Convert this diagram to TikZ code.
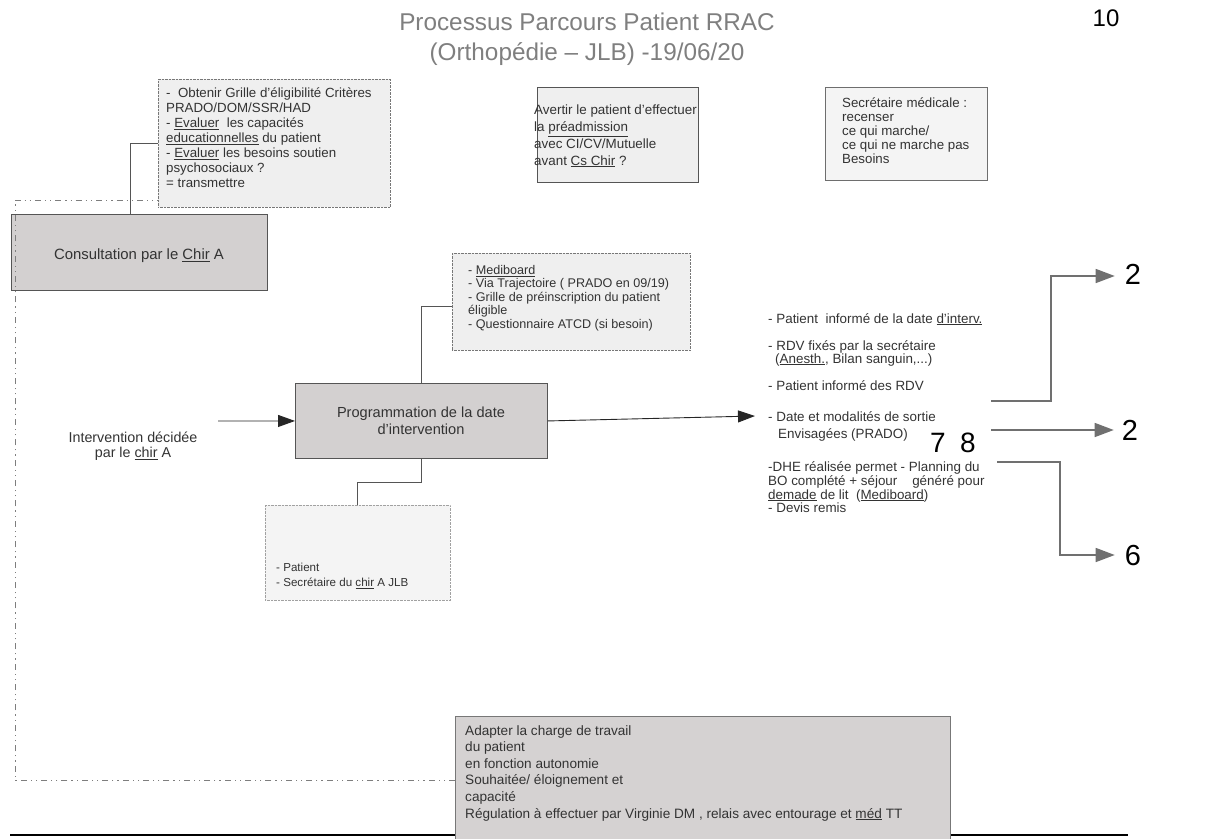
\documentclass[tikz,border=0pt]{standalone}
\usepackage{fontspec}
\setmainfont{Liberation Sans}
\usetikzlibrary{arrows.meta}
\definecolor{boxgray}{HTML}{D3D0D0}
\definecolor{lightbox}{HTML}{EFEFEF}
\definecolor{paler}{HTML}{F4F4F4}
\definecolor{textgray}{HTML}{333333}
\definecolor{titlegray}{HTML}{7F7F7F}
\definecolor{edgegray}{HTML}{555555}
\definecolor{arrowgray}{HTML}{707070}
\tikzset{
  dotbox/.style={draw=edgegray!80, densely dotted, fill=lightbox, inner sep=0, anchor=north west},
  solidbox/.style={draw=edgegray, line width=0.8pt, fill=lightbox, inner sep=0, anchor=north west},
  graybox/.style={draw=edgegray, line width=0.9pt, fill=boxgray, inner sep=0, anchor=north west},
  txt/.style={text=textgray, align=left, inner sep=0, anchor=north west, font=\fontsize{13.3}{15}\selectfont},
  ctxt/.style={text=textgray, align=center, inner sep=0, font=\fontsize{14.6}{17}\selectfont},
  bignum/.style={text=black, inner sep=0, font=\fontsize{28}{28}\selectfont},
  conn/.style={draw=edgegray, line width=0.9pt},
  blackarrow/.style={draw=black!85, line width=0.9pt, -{Triangle[length=17pt,width=12pt]}},
  grayarrow/.style={draw=arrowgray, line width=1.4pt, -{Triangle[length=19pt,width=14pt]}},
  dashdot/.style={draw=arrowgray!90, line width=1pt, dash pattern=on 6pt off 4pt on 1.2pt off 4pt on 1.2pt off 4pt}
}
\begin{document}
\begin{tikzpicture}[x=1pt,y=-1pt]
\useasboundingbox (0,0) rectangle (1218,838);
% title
\node[text=titlegray, align=center, inner sep=0, font=\fontsize{24.3}{30}\selectfont] (title) at (587,39) {Processus Parcours Patient RRAC\\(Orthopédie – JLB) -19/06/20};
\node[bignum, font=\fontsize{24}{24}\selectfont] (n10) at (1106,18) {10};
% bottom rule
\draw[line width=2.6pt, black] (10,835) coordinate (bl) -- (1128,835) coordinate (br);
% boxes
\node[dotbox, minimum width=232pt, minimum height=128pt] (crit) at (158,79) {};
\node[txt] (crittxt) at (166,88) {- \ Obtenir Grille d’éligibilité Critères\\PRADO/DOM/SSR/HAD\\- \underline{Evaluer}\ \ les capacités\\\underline{educationnelles} du patient\\- \underline{Evaluer} les besoins soutien\\psychosociaux ?\\= transmettre};
\node[solidbox, minimum width=161pt, minimum height=95pt] (preadm) at (537,87) {};
\node[txt, font=\fontsize{13.4}{16.7}\selectfont] (preadmtxt) at (534,105) {Avertir le patient d’effectuer\\la \underline{préadmission}\\avec CI/CV/Mutuelle\\avant \underline{Cs Chir} ?};
\node[solidbox, draw=edgegray!85, fill=paler, minimum width=162pt, minimum height=93pt] (secr) at (825,87) {};
\node[txt, font=\fontsize{13.3}{13.8}\selectfont] (secrtxt) at (842,98) {Secrétaire médicale :\\recenser\\ce qui marche/\\ce qui ne marche pas\\Besoins};
\node[graybox, minimum width=256pt, minimum height=76pt] (consult) at (11,214) {};
\node[ctxt, font=\fontsize{14.9}{17}\selectfont] (consulttxt) at (139,256) {Consultation par le \underline{Chir} A};
\node[dotbox, minimum width=238pt, minimum height=97pt] (medi) at (452,253) {};
\node[txt, font=\fontsize{12.6}{13.5}\selectfont] (meditxt) at (468,265) {- \underline{Mediboard}\\- Via Trajectoire ( PRADO en 09/19)\\- Grille de préinscription du patient\\éligible\\- Questionnaire ATCD (si besoin)};
\node[graybox, minimum width=252pt, minimum height=75pt] (prog) at (295,383) {};
\node[ctxt] (progtxt) at (421,421) {Programmation de la date\\d’intervention};
\node[dotbox, draw=edgegray!55, fill=paler, minimum width=185pt, minimum height=95pt] (pat) at (265,505) {};
\node[txt, font=\fontsize{11.6}{15}\selectfont] (pattxt) at (276,563) {- Patient\\- Secrétaire du \underline{chir} A JLB};
\node[ctxt, font=\fontsize{14.3}{15.5}\selectfont] (interv) at (133,446) {Intervention décidée\\par le \underline{chir} A};
\node[graybox, draw=edgegray!80, fill=boxgray!95, minimum width=495pt, minimum height=125pt] (adapt) at (455,716) {};
\node[txt, font=\fontsize{13.6}{16.6}\selectfont, text=black!80] (adapttxt) at (465,725) {Adapter la charge de travail\\du patient\\en fonction autonomie\\Souhaitée/ éloignement et\\capacité\\Régulation à effectuer par Virginie DM , relais avec entourage et \underline{méd} TT};
% right-hand text block
\node[txt, font=\fontsize{13.4}{13.5}\selectfont] (resu) at (768,313) {- Patient \ informé de la date \underline{d’interv.}\\[13.5pt]- RDV fixés par la secrétaire\\[-0.5pt]\hspace*{7pt}(\underline{Anesth.}, Bilan sanguin,...)\\[13.5pt]- Patient informé des RDV\\[17.5pt]- Date et modalités de sortie\\[4pt]\hspace*{10pt}Envisagées (PRADO)\\[19.5pt]-DHE réalisée permet - Planning du\\[0.5pt]BO complété + séjour \ \ \ généré pour\\\underline{demade} de lit \ (\underline{Mediboard})\\- Devis remis};
\node[bignum] (n7) at (938,443) {7};
\node[bignum] (n8) at (968,443) {8};
\node[bignum, font=\fontsize{29}{29}\selectfont] (n2a) at (1133,274) {2};
\node[bignum, font=\fontsize{29}{29}\selectfont] (n2b) at (1130,430) {2};
\node[bignum, font=\fontsize{29}{29}\selectfont] (n6) at (1133,556) {6};
% connectors
\draw[conn] (crit.west) -| ([xshift=-9pt]consult.north);
\draw[conn] ([yshift=-5pt]medi.west) -| (prog.north);
\draw[conn] (prog.south) -- ++(0,24) -| (pat.north);
\coordinate (ia) at (218,421);
\draw[blackarrow] (ia) -- (prog.west);
\coordinate (pr) at (755,416);
\draw[blackarrow] (prog.east) -- (pr);
\coordinate (s1) at (991,401);
\coordinate (k1) at (1051,276);
\draw[grayarrow] (s1) -| (k1) -- ([xshift=-10pt]n2a.west |- k1);
\coordinate (s2) at (991,430);
\draw[grayarrow] (s2) -- ([xshift=-8pt]n2b.west |- s2);
\coordinate (s3) at (997,462);
\coordinate (k3) at (1060,555);
\draw[grayarrow] (s3) -| (k3) -- ([xshift=-10pt]n6.west |- k3);
% feedback dash-dot loop
\coordinate (c0) at (15,200);
\draw[dashdot] ([yshift=-1.5pt]adapt.west) -| (c0) -- (crit.west |- c0);
\end{tikzpicture}
\end{document}
